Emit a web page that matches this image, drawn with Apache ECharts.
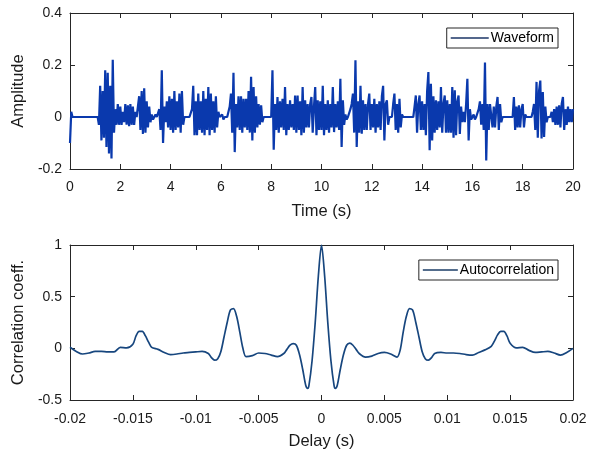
<!DOCTYPE html>
<html>
<head>
<meta charset="utf-8">
<script src="https://cdn.jsdelivr.net/npm/echarts@6/dist/echarts.min.js"></script>
<style>
html,body{margin:0;padding:0;background:#fff;}
#chart{width:596px;height:451px;}
</style>
</head>
<body>
<div id="chart"></div>
<script>
// ---- Waveform: amplitude samples every 0.05 s from 0 to 20 s ----
var waveStep = 0.05;
var waveform = [
-0.10,0.02,0,0,0,0,0,0,0,0,0,0,0,0,0,0,0,0,0,0,
0,0,0,-0.03,0.12,-0.09,0.10,-0.08,0.18,-0.115,0.17,-0.14,0.12,-0.16,0.22,-0.06,0.03,-0.03,0.05,-0.03,
0.04,-0.03,0.02,-0.02,0.05,-0.03,0.045,-0.035,0.05,-0.03,0.04,-0.03,0.02,0,0,0.08,-0.05,0.10,-0.065,0.11,
-0.06,0.06,-0.04,0.04,-0.02,0.01,-0.01,0,0.01,0,0,0.03,-0.05,0.18,-0.10,0.04,-0.02,0.06,-0.04,0.08,
-0.05,0.07,-0.06,0.10,-0.05,0.06,-0.04,0.09,-0.06,0.10,-0.03,0,0,0,0,0,0,0.03,0.12,-0.07,
0.06,-0.07,0.09,-0.05,0.06,-0.06,0.10,-0.07,0.07,-0.05,0.115,-0.07,0.09,-0.05,0.06,-0.06,0.08,-0.04,0.02,0,
0,0.01,-0.01,0,0,0,0,0.04,0.09,-0.06,0.17,-0.135,0.05,-0.04,0.08,-0.05,0.08,-0.06,0.07,-0.04,
0.07,-0.05,0.10,-0.06,0.155,-0.09,0.115,-0.06,0.08,-0.04,0.05,-0.03,0.045,-0.02,0,0,0,0,0,0,
0,0.18,-0.126,0.05,-0.05,0.077,-0.06,0.06,-0.04,0.07,-0.05,0.115,-0.07,0.05,-0.05,0.064,-0.04,0.05,-0.05,0.083,
-0.06,0.083,-0.05,0.06,-0.07,0.115,-0.06,0.064,-0.04,0.05,-0.04,0.05,0.077,-0.06,0.04,0.115,-0.07,0.064,-0.05,0.06,
-0.05,0.12,-0.07,0.05,-0.05,0.064,-0.06,0.05,-0.04,0.115,-0.058,0.05,-0.04,0.06,-0.05,0.147,-0.115,0.064,-0.03,0.01,
-0.01,0,0,0.03,0.05,0.09,-0.06,0.218,-0.115,0.06,-0.06,0.12,-0.064,0.064,-0.05,0.05,-0.05,0.05,0.09,-0.05,
0.05,-0.04,0.07,-0.06,0.05,-0.04,0.06,-0.05,0.08,0.12,-0.09,0.05,0.064,-0.03,0,0,0,0.05,0.09,-0.05,
0.05,-0.06,0.07,-0.04,0.01,0,0,0,0,0,0,0,0,0,0.04,0.083,-0.06,0.05,0.083,-0.05,
0.06,-0.05,0.05,-0.07,0.10,0.173,-0.128,0.128,-0.09,0.08,-0.06,0.064,-0.05,0.06,-0.04,0.115,-0.06,0.05,0.083,-0.06,
0.064,-0.06,0.05,-0.06,0.115,-0.08,0.103,-0.07,0.06,0.083,-0.065,0.04,-0.02,0.02,-0.02,0.05,0.147,-0.09,0.03,-0.01,
0,0.01,-0.01,0,0,0.03,0.06,-0.03,0.05,-0.05,0.21,-0.167,0.05,-0.05,0.05,0.05,-0.04,0.04,-0.04,0.04,
0.077,-0.05,0.05,-0.02,0,0,0,0,0,0,0,0,0,0.077,-0.05,0.04,-0.04,0.045,-0.04,0.03,
0.05,-0.04,0.01,0,0,0,0,0,0.02,0.05,-0.05,0.135,-0.08,0.10,0.14,-0.083,0.096,-0.077,0.04,-0.02,
0,0,0,0.02,-0.02,0.03,-0.03,0.04,-0.03,0.045,-0.04,0.05,0.077,-0.05,0.03,-0.03,0.04,-0.02,0.03,-0.02,
0.03
];

// ---- Autocorrelation ----
var lagDelay = [
-0.02,-0.0195,-0.019,-0.0185,-0.018,-0.0175,-0.017,-0.0165,-0.016,-0.0155,-0.015,-0.01475,-0.0145,-0.01425,-0.014,-0.01375,-0.0135,-0.013,-0.0125,-0.012,-0.0115,-0.011,-0.0105,-0.01,-0.0095,-0.009,-0.00875,-0.0085,-0.00825,-0.008,-0.00775,-0.0075,-0.00725,-0.007,-0.00675,-0.0065,-0.00625,-0.006,-0.0055,-0.005,-0.0045,-0.004,-0.0035,-0.003,-0.00275,-0.0025,-0.00225,-0.002,-0.00175,-0.0015,-0.00125,-0.0011,-0.001,-0.00075,-0.0005,-0.00025,
0,
0.00025,0.0005,0.00075,0.001,0.0011,0.00125,0.0015,0.00175,0.002,0.00225,0.0025,0.00275,0.003,0.0035,0.004,0.0045,0.005,0.0055,0.006,0.00625,0.0065,0.00675,0.007,0.00725,0.0075,0.00775,0.008,0.00825,0.0085,0.00875,0.009,0.0095,0.01,0.0105,0.011,0.0115,0.012,0.0125,0.013,0.0135,0.01375,0.014,0.01425,0.0145,0.01475,0.015,0.0155,0.016,0.0165,0.017,0.0175,0.018,0.0185,0.019,0.0195,0.02
];
var lagCorr = [
0.01,-0.03,-0.055,-0.045,-0.03,-0.03,-0.035,-0.035,0.01,0.005,0.04,0.12,0.165,0.165,0.12,0.06,0.01,-0.01,-0.04,-0.06,-0.055,-0.045,-0.04,-0.035,-0.03,-0.05,-0.09,-0.115,-0.10,-0.03,0.11,0.25,0.37,0.385,0.31,0.16,0.0,-0.08,-0.07,-0.045,-0.05,-0.065,-0.08,-0.05,-0.01,0.03,0.045,0.03,-0.06,-0.20,-0.36,-0.387,-0.36,-0.12,0.25,0.70,
1.0,
0.70,0.25,-0.12,-0.36,-0.387,-0.36,-0.20,-0.06,0.03,0.05,0.03,-0.01,-0.05,-0.085,-0.075,-0.05,-0.04,-0.055,-0.085,-0.02,0.16,0.31,0.385,0.37,0.25,0.11,-0.03,-0.10,-0.115,-0.09,-0.05,-0.04,-0.045,-0.045,-0.05,-0.06,-0.065,-0.04,-0.015,0.02,0.07,0.13,0.165,0.165,0.12,0.05,0.005,0.01,-0.02,-0.04,-0.035,-0.03,-0.045,-0.065,-0.04,0.0
];

var waveData = waveform.map(function(v,i){return [Math.round(i*waveStep*100)/100, v];});
var corrData = lagDelay.map(function(d,i){return [d, lagCorr[i]];});

var FONT = 'Liberation Sans, Arial, sans-serif';
var AX = '#262626';

function axisBase(extra){
  var o = {
    axisLine:{show:true,onZero:false,lineStyle:{color:AX,width:1}},
    axisTick:{show:true,inside:true,length:5,lineStyle:{color:AX,width:1}},
    splitLine:{show:false},
    axisLabel:{show:true,color:'#1a1a1a',fontSize:14,fontFamily:FONT},
    nameTextStyle:{color:'#1a1a1a',fontSize:16.5,fontFamily:FONT}
  };
  for (var k in extra) o[k]=extra[k];
  return o;
}
function hidden(o){ o.axisLabel = {show:false}; return o; }

var chart = echarts.init(document.getElementById('chart'), null, {renderer:'canvas'});
chart.setOption({
  backgroundColor:'#ffffff',
  animation:false,
  grid:[
    {left:70, top:13, width:503, height:156, containLabel:false},
    {left:70, top:245, width:503, height:155, containLabel:false}
  ],
  xAxis:[
    axisBase({type:'value',gridIndex:0,position:'bottom',min:0,max:20,interval:2,
      name:'Time (s)',nameLocation:'middle',nameGap:34,axisLabel:{color:'#1a1a1a',fontSize:14,fontFamily:FONT,margin:11}}),
    hidden(axisBase({type:'value',gridIndex:0,position:'top',min:0,max:20,interval:2})),
    axisBase({type:'value',gridIndex:1,position:'bottom',min:-0.02,max:0.02,interval:0.005,
      name:'Delay (s)',nameLocation:'middle',nameGap:33,axisLabel:{color:'#1a1a1a',fontSize:14,fontFamily:FONT,margin:12}}),
    hidden(axisBase({type:'value',gridIndex:1,position:'top',min:-0.02,max:0.02,interval:0.005}))
  ],
  yAxis:[
    axisBase({type:'value',gridIndex:0,position:'left',min:-0.2,max:0.4,interval:0.2,
      name:'Amplitude',nameLocation:'middle',nameGap:37,axisLabel:{color:'#1a1a1a',fontSize:14,fontFamily:FONT,margin:8}}),
    hidden(axisBase({type:'value',gridIndex:0,position:'right',min:-0.2,max:0.4,interval:0.2})),
    axisBase({type:'value',gridIndex:1,position:'left',min:-0.5,max:1,interval:0.5,
      name:'Correlation coeff.',nameLocation:'middle',nameGap:37,axisLabel:{color:'#1a1a1a',fontSize:14,fontFamily:FONT,margin:8}}),
    hidden(axisBase({type:'value',gridIndex:1,position:'right',min:-0.5,max:1,interval:0.5}))
  ],
  legend:[
    {data:[{name:'Waveform',icon:'rect'}],right:38,top:28,orient:'horizontal',itemWidth:38,itemHeight:1.5,
     padding:[3,4,3,4],borderColor:AX,borderWidth:1,backgroundColor:'#fff',
     itemStyle:{color:'#1b3466'},
     textStyle:{fontSize:14,fontFamily:FONT,color:'#000',padding:[1,0,0,-3]}},
    {data:[{name:'Autocorrelation',icon:'rect'}],right:38,top:260,orient:'horizontal',itemWidth:35,itemHeight:1.5,
     padding:[3,4,3,4],borderColor:AX,borderWidth:1,backgroundColor:'#fff',
     itemStyle:{color:'#1b3c66'},
     textStyle:{fontSize:14,fontFamily:FONT,color:'#000',padding:[1,0,0,-3]}}
  ],
  series:[
    {name:'Waveform',type:'line',xAxisIndex:0,yAxisIndex:0,data:waveData,
     symbol:'none',lineStyle:{color:'#0a39ad',width:2.2},itemStyle:{color:'#0a39ad'}},
    {name:'Autocorrelation',type:'line',xAxisIndex:2,yAxisIndex:2,data:corrData,
     symbol:'none',smooth:0.3,lineStyle:{color:'#17467e',width:1.7},itemStyle:{color:'#17467e'}}
  ]
});
</script>
</body>
</html>
